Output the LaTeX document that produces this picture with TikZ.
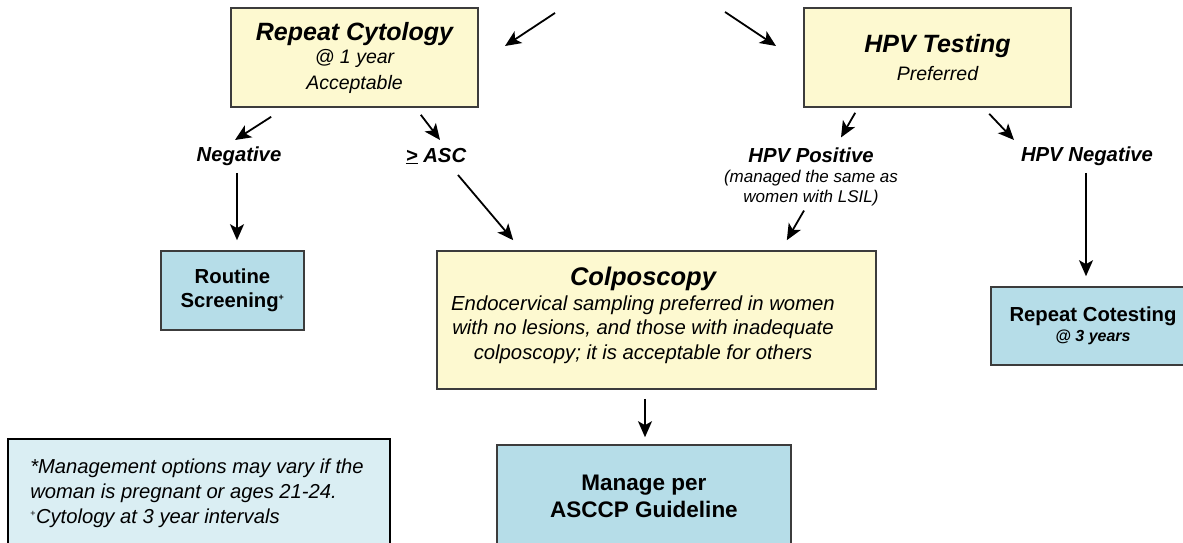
\documentclass[tikz,border=0pt]{standalone}
\usepackage{fontspec}
\setmainfont{Liberation Sans}
\usetikzlibrary{arrows.meta,calc}
\definecolor{ybox}{HTML}{FDF9D0}
\definecolor{bbox}{HTML}{B6DDE8}
\definecolor{nbox}{HTML}{DAEEF3}
\definecolor{bord}{HTML}{3C3C3C}
\tikzset{
  yellowbox/.style={draw=bord,line width=1.6pt,fill=ybox,inner sep=0pt,align=center},
  bluebox/.style={draw=bord,line width=1.6pt,fill=bbox,inner sep=0pt,align=center},
  notebox/.style={draw=black,line width=1.2pt,fill=nbox,inner sep=0pt},
  lbl/.style={inner sep=0pt,align=center,font=\fontsize{20.3}{22}\selectfont\bfseries\itshape},
  arr/.style={line width=1.8pt,-{Stealth[length=16pt,width=14pt,inset=4pt]}},
}
\begin{document}
\begin{tikzpicture}[x=1pt,y=1pt]
\useasboundingbox (0,0) rectangle (1183,543);
% boxes
\node[yellowbox,minimum width=247,minimum height=99,font=\fontsize{19.5}{26}\selectfont] (rc) at (354.5,485.5)
  {{\fontsize{25}{26}\selectfont\bfseries\itshape Repeat Cytology}\\[-3pt]
   {\itshape @ 1 year}\\
   {\itshape Acceptable}};
\node[yellowbox,minimum width=267,minimum height=99,font=\fontsize{19.5}{28}\selectfont] (hpv) at (937.5,485.5)
  {{\fontsize{25}{26}\selectfont\bfseries\itshape HPV Testing}\\
   {\itshape Preferred}};
\node[bluebox,minimum width=143,minimum height=79,font=\fontsize{20.3}{24}\selectfont\bfseries] (routine) at (232.5,252.5)
  {Routine\\
   Screening\textsuperscript{\fontsize{9}{9}\selectfont +}};
\node[yellowbox,minimum width=439,minimum height=138] (colpo) at (656.5,223) {};
\node[inner sep=0pt,align=center,font=\fontsize{20.3}{24.5}\selectfont\itshape] (colpotext) at (643,227.5)
  {{\fontsize{25.5}{26}\selectfont\bfseries Colposcopy}\\
   Endocervical sampling preferred in women\\
   with no lesions, and those with inadequate\\
   colposcopy; it is acceptable for others};
\node[bluebox,minimum width=204,minimum height=78,font=\fontsize{16}{19.5}\selectfont] (cotest) at (1093,217)
  {{\fontsize{20.3}{22}\selectfont\bfseries Repeat Cotesting}\\
   {\bfseries\itshape @ 3 years}};
\node[bluebox,minimum width=294,minimum height=103,font=\fontsize{22.5}{27}\selectfont\bfseries] (manage) at (644,46.5)
  {Manage per\\
   ASCCP Guideline};
\node[notebox,minimum width=382,minimum height=121] (note) at (199,43.5) {};
\node[inner sep=0pt,align=left,font=\fontsize{20.2}{25}\selectfont\itshape] (notetext) at (197,49.5)
  {*Management options may vary if the\\
   woman is pregnant or ages 21-24.\\
   \textsuperscript{\upshape\fontsize{9}{9}\selectfont +}Cytology at 3 year intervals};
% labels
\node[lbl] (neg) at (239,387) {Negative};
\node[lbl] (asc) at (436,387) {\underline{>} ASC};
\node[inner sep=0pt,align=center,font=\fontsize{17}{20.5}\selectfont\itshape] (hpvpos) at (811,366)
  {{\fontsize{20.3}{22}\selectfont\bfseries HPV Positive}\\[-0.5pt]
   (managed the same as\\
   women with LSIL)};
\node[lbl] (hpvneg) at (1087,387) {HPV Negative};
% free arrow ends at the top
\coordinate (srcl) at (555,530);
\coordinate (srcr) at (725,531);
\coordinate (tipl) at (505,497);
\coordinate (tipr) at (776,497);
\draw[arr] (srcl) -- (tipl);
\draw[arr] (srcr) -- (tipr);
% connectors
\draw[arr] ($(rc.south west)+(41,-9)$) -- ($(neg.center)+(-4,16)$);
\draw[arr] ($(rc.south east)+(-58,-7)$) -- ($(asc.center)+(4,16)$);
\draw[arr] ($(neg.center)+(-2,-17)$) -- ($(routine.north)+(4.5,10)$);
\draw[arr] ($(asc.center)+(22,-19)$) -- ($(colpo.north west)+(77,10)$);
\draw[arr] ($(hpv.south west)+(52,-5)$) -- ($(hpvpos.north)+(30,10)$);
\draw[arr] ($(hpv.south west)+(186,-6)$) -- ($(hpvneg.center)+(-73,16)$);
\draw[arr] ($(hpvpos.south)+(-7,-4)$) -- ($(colpo.north east)+(-90,10)$);
\draw[arr] ($(hpvneg.center)+(-1,-17)$) -- ($(cotest.north)+(-7,10)$);
\draw[arr] ($(colpo.south)+(-11.5,-9)$) -- ($(manage.north)+(1,7)$);
\end{tikzpicture}
\end{document}
